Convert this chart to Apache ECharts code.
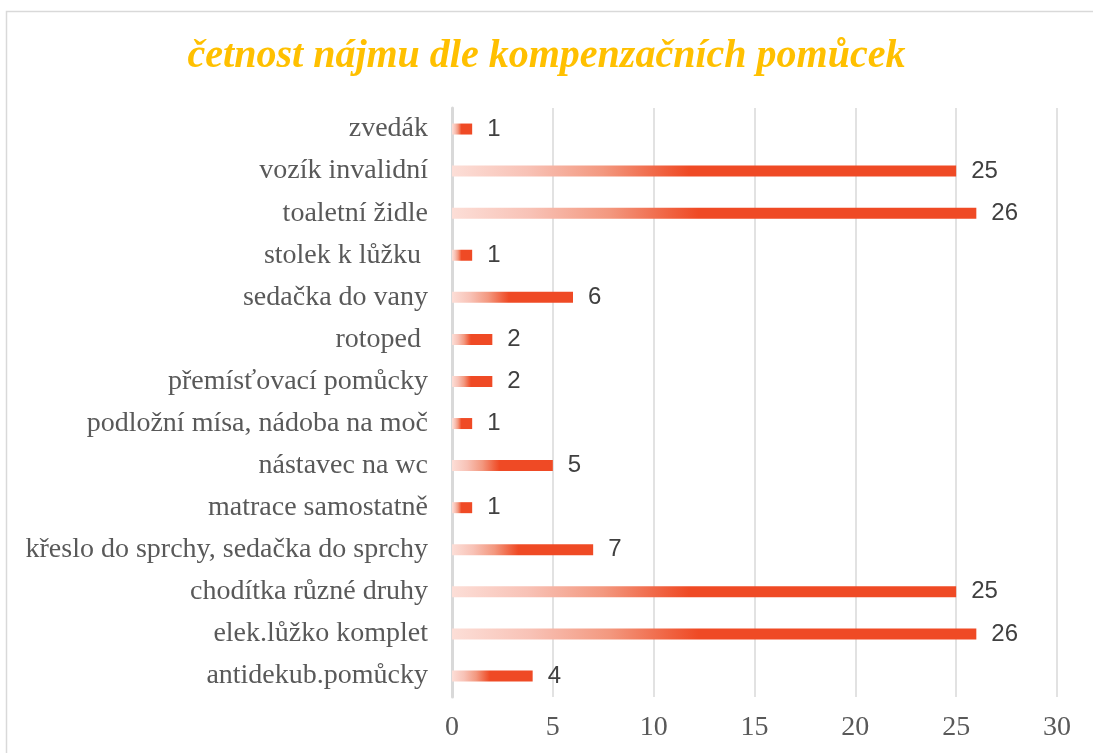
<!DOCTYPE html>
<html>
<head>
<meta charset="utf-8">
<script src="https://cdn.jsdelivr.net/npm/echarts@6/dist/echarts.min.js"></script>
<style>
html,body{margin:0;padding:0;background:#fff;}
#chart{width:1093px;height:753px;}
</style>
</head>
<body>
<div id="chart"></div>
<script>
// Data (bottom to top, as drawn on the category axis)
const categories = [
  'antidekub.pomůcky',
  'elek.lůžko komplet',
  'chodítka různé druhy',
  'křeslo do sprchy, sedačka do sprchy',
  'matrace samostatně',
  'nástavec na wc',
  'podložní mísa, nádoba na moč',
  'přemísťovací pomůcky',
  'rotoped ',
  'sedačka do vany',
  'stolek k lůžku ',
  'toaletní židle',
  'vozík invalidní',
  'zvedák'
];
const counts = [4, 26, 25, 7, 1, 5, 1, 2, 2, 6, 1, 26, 25, 1];
const titleText = 'četnost nájmu dle kompenzačních pomůcek';
const axisMin = 0, axisMax = 30, axisStep = 5;

const chart = echarts.init(document.getElementById('chart'), null, {renderer: 'canvas'});
const barGradient = new echarts.graphic.LinearGradient(0, 0, 1, 0, [
  {offset: 0, color: '#FCDED7'},
  {offset: 0.15, color: '#F8C2B6'},
  {offset: 0.3, color: '#F3987F'},
  {offset: 0.42, color: '#F0603E'},
  {offset: 0.47, color: '#EF4A25'},
  {offset: 1, color: '#EF4A25'}
]);
chart.setOption({
  animation: false,
  backgroundColor: '#ffffff',
  graphic: [{
    type: 'rect',
    shape: {x: 6.5, y: 11.5, width: 1200, height: 1000},
    style: {fill: 'none', stroke: '#D9D9D9', lineWidth: 1.5},
    silent: true, z: -1
  }],
  title: {
    text: titleText,
    left: 'center',
    top: 32,
    textStyle: {
      fontFamily: '"Liberation Serif", "Times New Roman", serif',
      fontStyle: 'italic',
      fontWeight: 'bold',
      fontSize: 40,
      color: '#FFC000'
    }
  },
  grid: {left: 452, right: 36, top: 108, bottom: 56, containLabel: false},
  xAxis: {
    type: 'value',
    min: axisMin, max: axisMax, interval: axisStep,
    axisLine: {show: false},
    axisTick: {show: false},
    splitLine: {show: true, lineStyle: {color: '#D9D9D9', width: 1.5}},
    axisLabel: {
      margin: 17,
      fontFamily: '"Liberation Serif", "Times New Roman", serif',
      fontSize: 28,
      color: '#595959'
    }
  },
  yAxis: {
    type: 'category',
    data: categories,
    axisLine: {show: true, lineStyle: {color: '#D9D9D9', width: 3}},
    axisTick: {show: false},
    axisLabel: {
      margin: 24,
      fontFamily: '"Liberation Serif", "Times New Roman", serif',
      fontSize: 28,
      color: '#595959'
    }
  },
  series: [{
    type: 'bar',
    data: counts,
    barWidth: 11,
    itemStyle: {color: barGradient},
    label: {
      show: true,
      position: 'right',
      distance: 15,
      fontFamily: '"Liberation Sans", Arial, sans-serif',
      fontSize: 24,
      color: '#404040'
    }
  }]
});
</script>
</body>
</html>
